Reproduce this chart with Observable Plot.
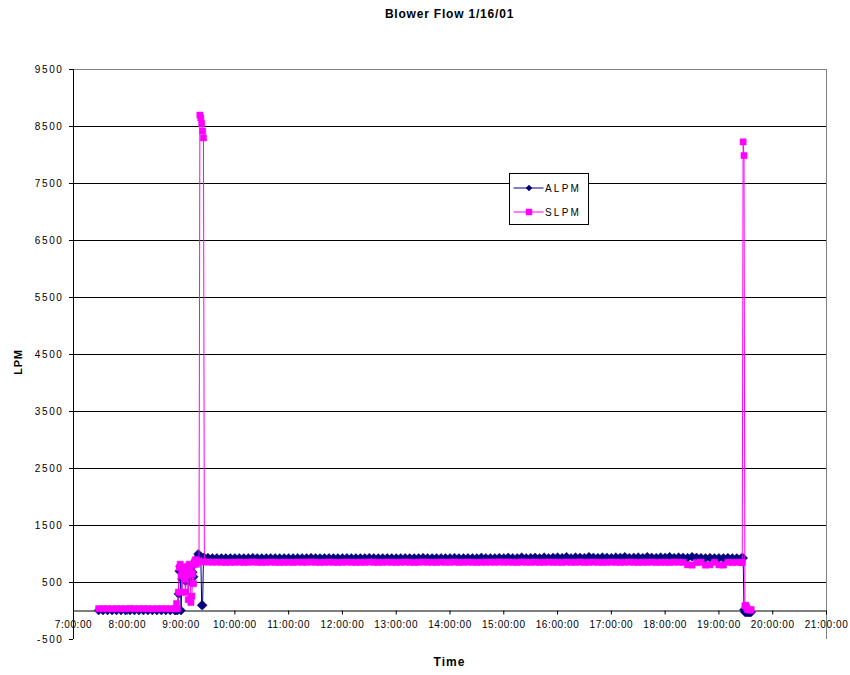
<!DOCTYPE html>
<html>
<head>
<meta charset="utf-8">
<script src="https://cdn.jsdelivr.net/npm/d3@7"></script>
<script src="https://cdn.jsdelivr.net/npm/@observablehq/plot@0.6"></script>
<style>
  body { margin: 0; background: #fff; }
  #chart { width: 850px; height: 675px; }
  #chart svg g[aria-label="y-axis tick label"] { letter-spacing: 1.6px; }
  #chart svg g[aria-label="x-axis tick label"] { letter-spacing: 0.6px; }
</style>
</head>
<body>
<div id="chart"></div>
<script>
// Blower flow log, 16 Jan 2001: sample times (H:MM) and readings in LPM.
const times = [
  "7:28","7:33","7:38","7:43","7:48","7:53","7:58","8:03","8:08","8:13","8:18","8:23","8:28","8:33","8:38","8:43","8:48","8:53",
  "8:54","8:55","8:56","8:57","8:58","8:59","9:00","9:01","9:02","9:03","9:04","9:05","9:06","9:07","9:08","9:09",
  "9:10","9:11","9:12","9:13","9:14","9:15","9:16","9:17","9:18","9:19","9:20","9:21","9:22","9:23","9:24","9:25","9:26",
  "9:30","9:35","9:40","9:45","9:50","9:55",
  "10:00","10:05","10:10","10:15","10:20","10:25","10:30","10:35","10:40","10:45","10:50","10:55",
  "11:00","11:05","11:10","11:15","11:20","11:25","11:30","11:35","11:40","11:45","11:50","11:55",
  "12:00","12:05","12:10","12:15","12:20","12:25","12:30","12:35","12:40","12:45","12:50","12:55",
  "13:00","13:05","13:10","13:15","13:20","13:25","13:30","13:35","13:40","13:45","13:50","13:55",
  "14:00","14:05","14:10","14:15","14:20","14:25","14:30","14:35","14:40","14:45","14:50","14:55",
  "15:00","15:05","15:10","15:15","15:20","15:25","15:30","15:35","15:40","15:45","15:50","15:55",
  "16:00","16:05","16:10","16:15","16:20","16:25","16:30","16:35","16:40","16:45","16:50","16:55",
  "17:00","17:05","17:10","17:15","17:20","17:25","17:30","17:35","17:40","17:45","17:50","17:55",
  "18:00","18:05","18:10","18:15","18:20","18:25","18:30","18:35","18:40","18:45","18:50","18:55",
  "19:00","19:05","19:10","19:15","19:20","19:25",
  "19:26","19:27","19:28","19:29","19:30","19:31","19:32","19:33","19:34","19:35","19:36"
];

const alpm = [
  10,10,10,10,10,10,10,10,10,10,10,10,10,10,10,10,10,10,
  10,20,10,300,700,780,10,560,680,740,600,520,690,640,560,760,
  720,500,580,680,600,820,880,860,920,1000,980,960,950,100,100,940,935,
  935,930,932,930,928,930,
  930,932,928,930,935,930,928,930,932,930,928,930,
  930,928,932,930,930,935,930,928,930,932,930,928,
  930,932,930,928,930,930,935,930,928,930,932,930,
  928,930,932,930,928,930,935,930,930,928,932,930,
  930,935,928,930,932,930,928,940,930,932,930,935,
  930,940,932,930,945,930,935,940,930,945,932,940,
  945,935,950,932,945,940,935,950,940,935,945,940,
  935,945,940,950,935,940,945,935,950,940,935,945,
  940,950,935,945,940,935,950,940,935,930,935,930,
  932,930,935,930,928,930,
  930,930,20,-20,-20,-20,-20,-20,-20,-20,-20
];

const slpm = [
  40,42,40,38,42,40,40,45,40,40,42,40,38,40,42,40,40,42,
  40,130,45,330,760,820,620,330,700,780,560,330,700,620,200,820,
  760,150,260,650,480,860,900,820,850,870,880,8700,8650,8550,8420,8300,860,
  860,855,858,855,852,855,
  855,858,852,855,860,855,852,855,858,855,852,855,
  855,852,858,855,855,860,855,852,855,858,855,852,
  855,858,855,852,855,855,860,855,852,855,858,855,
  852,855,858,855,852,855,860,855,855,852,858,855,
  855,860,852,855,858,855,852,855,855,858,855,860,
  855,858,855,852,860,855,855,858,852,855,858,855,
  855,852,858,855,855,860,852,855,858,855,852,855,
  858,855,852,855,858,855,852,855,855,858,852,855,
  855,852,858,855,855,810,805,850,855,805,810,855,
  810,805,855,850,855,852,
  850,8230,7990,90,100,60,30,20,20,20,20
];

const seriesNames = ["ALPM", "SLPM"];
const seriesColors = ["#000080", "#FF00FF"];
const yTicks = [-500, 500, 1500, 2500, 3500, 4500, 5500, 6500, 7500, 8500, 9500];
const xTickLabels = ["7:00:00","8:00:00","9:00:00","10:00:00","11:00:00","12:00:00","13:00:00",
  "14:00:00","15:00:00","16:00:00","17:00:00","18:00:00","19:00:00","20:00:00","21:00:00"];
const titleText = "Blower Flow 1/16/01";
const xTitle = "Time";
const yTitle = "LPM";

const toDate = s => {
  const [h, m] = s.split(":").map(Number);
  return new Date(Date.UTC(2001, 0, 16, h, m));
};

const alpmRows = times.map((t, i) => ({t: toDate(t), v: alpm[i]}));
const slpmRows = times.map((t, i) => ({t: toDate(t), v: slpm[i]}));
const hourTicks = xTickLabels.map(toDate);
const xDomain = [hourTicks[0], hourTicks[hourTicks.length - 1]];
const yDomain = [yTicks[0], yTicks[yTicks.length - 1]];

const W = 850, H = 675;
const margin = {top: 69, right: 24, bottom: 36, left: 73};
const font = "'Liberation Sans', Arial, sans-serif";

// the time axis crosses the value axis at zero, so shift it up from the frame bottom
const yScale = Plot.scale({y: {domain: yDomain, range: [H - margin.bottom, margin.top]}});
const axisShift = yScale.apply(0) - (H - margin.bottom);

const diamond = {
  draw(ctx, size) {
    const r = Math.sqrt(size / Math.PI);
    ctx.moveTo(0, -r); ctx.lineTo(r, 0); ctx.lineTo(0, r); ctx.lineTo(-r, 0); ctx.closePath();
  }
};

const labelFor = d => xTickLabels[hourTicks.findIndex(h => +h === +d)];

const chart = Plot.plot({
  width: W,
  height: H,
  marginTop: margin.top,
  marginRight: margin.right,
  marginBottom: margin.bottom,
  marginLeft: margin.left,
  style: {fontFamily: font, fontSize: "10px", color: "#000", background: "#fff", overflow: "visible"},
  x: {type: "utc", domain: xDomain},
  y: {domain: yDomain},
  marks: [
    Plot.gridY(yTicks.filter(v => v > yDomain[0] && v < yDomain[1]), {stroke: "#000", strokeOpacity: 1}),
    Plot.ruleY([yDomain[1]], {stroke: "#808080"}),
    Plot.ruleX([xDomain[1]], {stroke: "#808080"}),
    Plot.ruleX([xDomain[0]], {stroke: "#000"}),
    Plot.ruleY([0], {stroke: "#000"}),
    Plot.axisY({ticks: yTicks, tickSize: 4, tickPadding: 6, tickFormat: d => String(d), label: null, fontSize: 10}),
    Plot.axisX({ticks: hourTicks, tickSize: 4, tickPadding: 6, tickFormat: labelFor, label: null, fontSize: 10, dy: axisShift}),
    Plot.line(alpmRows, {x: "t", y: "v", stroke: seriesColors[0], strokeWidth: 1}),
    Plot.dot(alpmRows, {x: "t", y: "v", symbol: diamond, r: 4.5, fill: seriesColors[0], stroke: seriesColors[0], strokeWidth: 0.5}),
    Plot.line(slpmRows, {x: "t", y: "v", stroke: seriesColors[1], strokeWidth: 1}),
    Plot.dot(slpmRows, {x: "t", y: "v", symbol: "square", r: 3.5, fill: seriesColors[1], stroke: seriesColors[1], strokeWidth: 0.5})
  ]
});

document.getElementById("chart").append(chart);

const svg = d3.select(chart);
const cx = margin.left + (W - margin.left - margin.right) / 2;

svg.append("text")
  .attr("x", cx).attr("y", 18)
  .attr("text-anchor", "middle")
  .style("font-family", font).style("font-size", "12px").style("font-weight", "bold")
  .style("letter-spacing", "0.8px")
  .text(titleText);

svg.append("text")
  .attr("x", cx).attr("y", 666)
  .attr("text-anchor", "middle")
  .style("font-family", font).style("font-size", "12px").style("font-weight", "bold")
  .style("letter-spacing", "1px")
  .text(xTitle);

svg.append("text")
  .attr("transform", `translate(22, ${margin.top + (H - margin.top - margin.bottom) / 2 + 8}) rotate(-90)`)
  .attr("text-anchor", "middle")
  .style("font-family", font).style("font-size", "11px").style("font-weight", "bold")
  .style("letter-spacing", "0.8px")
  .text(yTitle);

// legend box
const legend = svg.append("g").attr("transform", "translate(509.5, 173.5)");
legend.append("rect").attr("width", 79).attr("height", 51)
  .attr("fill", "#fff").attr("stroke", "#000").attr("stroke-width", 1);
const symbols = [diamond, d3.symbolSquare];
const symbolSizes = [Math.PI * 9, 36];
seriesNames.forEach((name, i) => {
  const yy = 14.5 + i * 24;
  const g = legend.append("g").attr("transform", `translate(0, ${yy})`);
  g.append("line").attr("x1", 4).attr("x2", 34).attr("y1", 0).attr("y2", 0)
    .attr("stroke", seriesColors[i]).attr("stroke-width", 1);
  g.append("path").attr("transform", "translate(19.5, 0)")
    .attr("d", d3.symbol(symbols[i], symbolSizes[i])())
    .attr("fill", seriesColors[i]).attr("stroke", seriesColors[i]).attr("stroke-width", 0.5);
  g.append("text").attr("x", 35.5).attr("y", 3.5)
    .attr("text-anchor", "start")
    .style("font-family", font).style("font-size", "10px").style("letter-spacing", "2.2px")
    .text(name);
});
</script>
</body>
</html>
